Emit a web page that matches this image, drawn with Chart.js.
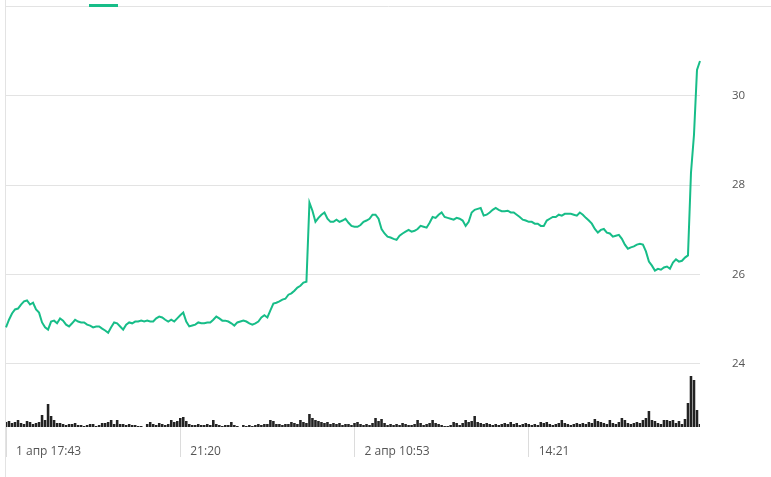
<!DOCTYPE html>
<html>
<head>
<meta charset="utf-8">
<script src="https://cdn.jsdelivr.net/npm/chart.js@4.4.1/dist/chart.umd.min.js"></script>
<style>
  html, body { margin: 0; padding: 0; background: #fff; }
  #wrap { width: 771px; height: 477px; position: relative; }
</style>
</head>
<body>
<div id="wrap"><canvas id="c"></canvas></div>
<script>
// ---- data ----
const prices = [
  24.82,24.99,25.13,25.22,25.24,25.33,25.40,25.42,25.33,25.37,
  25.22,25.15,24.93,24.82,24.77,24.95,24.97,24.91,25.02,24.97,
  24.88,24.84,24.91,24.99,24.95,24.93,24.93,24.88,24.86,24.82,
  24.84,24.84,24.79,24.75,24.70,24.82,24.93,24.91,24.84,24.77,
  24.88,24.93,24.91,24.95,24.95,24.97,24.95,24.97,24.95,24.95,
  25.02,25.06,25.04,24.99,24.95,24.99,24.95,25.02,25.09,25.15,
  24.95,24.84,24.86,24.88,24.93,24.91,24.91,24.93,24.93,24.99,
  25.06,25.02,24.97,24.97,24.95,24.91,24.86,24.93,24.95,24.97,
  24.95,24.91,24.88,24.91,24.95,25.04,25.09,25.04,25.20,25.35,
  25.37,25.40,25.44,25.46,25.55,25.58,25.64,25.71,25.75,25.82,
  25.84,27.61,27.43,27.18,27.27,27.34,27.39,27.25,27.18,27.18,
  27.23,27.18,27.21,27.25,27.16,27.09,27.07,27.07,27.11,27.18,
  27.21,27.25,27.34,27.34,27.25,27.02,26.92,26.85,26.83,26.80,
  26.78,26.87,26.92,26.96,27.00,26.96,26.98,27.02,27.09,27.07,
  27.05,27.16,27.29,27.27,27.34,27.39,27.29,27.27,27.25,27.23,
  27.27,27.25,27.21,27.09,27.18,27.39,27.45,27.47,27.49,27.32,
  27.34,27.39,27.45,27.49,27.45,27.42,27.42,27.43,27.39,27.39,
  27.34,27.29,27.23,27.21,27.18,27.18,27.14,27.14,27.09,27.09,
  27.21,27.25,27.29,27.29,27.34,27.32,27.36,27.36,27.36,27.34,
  27.32,27.39,27.34,27.27,27.21,27.14,27.02,26.94,27.00,27.02,
  26.94,26.92,26.85,26.87,26.89,26.80,26.67,26.58,26.61,26.63,
  26.67,26.69,26.67,26.52,26.29,26.20,26.09,26.13,26.11,26.16,
  26.18,26.13,26.27,26.34,26.29,26.31,26.38,26.43,28.28,29.13,
  30.58,30.78
];
const volumes = [
  5,6,4,5,7,4,3,6,5,3,
  4,5,12,7,23,11,7,4,4,3,
  2,3,3,4,2,2,1,2,3,3,
  1,2,4,4,5,7,3,7,3,3,
  2,3,2,2,1,1,0,3,5,3,
  2,4,3,2,3,7,5,6,9,10,
  6,3,2,2,3,2,2,3,2,7,
  3,2,1,2,2,5,2,1,0,2,
  1,2,1,2,3,2,3,3,7,6,
  3,3,2,3,3,5,4,3,7,5,
  4,13,9,7,6,5,4,5,3,4,
  3,4,2,3,3,2,4,5,3,2,
  3,2,4,9,6,8,4,2,3,2,
  3,2,4,3,2,2,3,7,4,2,
  3,4,7,4,3,2,1,1,2,5,
  4,2,4,7,5,6,11,5,4,3,
  4,3,2,3,2,3,4,3,5,3,
  4,2,3,4,3,2,3,2,5,4,
  5,3,2,3,4,7,4,3,2,3,
  4,3,4,3,5,4,8,6,5,4,
  3,7,4,3,5,9,7,4,3,4,
  5,4,7,9,16,7,6,4,3,7,
  7,6,7,4,6,3,8,24,51,47,
  17,3
];
const timeTickIndex = [0, 58, 116, 174];
const timeTickLabels = ['1 апр 17:43', '21:20', '2 апр 10:53', '14:21'];
const priceTicks = [24, 26, 28, 30];

// ---- chart ----
const idx = prices.map((_, i) => i);
const GREEN = '#17bd88';
const GRID = '#e3e3e3';
const TEXT = '#555';
const FAMILY = '"Open Sans", "Liberation Sans", Arial, sans-serif';

const decor = {
  id: 'decor',
  beforeDraw(chart) {
    const { ctx, chartArea } = chart;
    ctx.save();
    ctx.strokeStyle = GRID;
    ctx.lineWidth = 1;
    ctx.beginPath();
    ctx.moveTo(chartArea.left, Math.round(chartArea.top) + 0.5);
    ctx.lineTo(chart.width, Math.round(chartArea.top) + 0.5);
    ctx.stroke();
    ctx.beginPath();
    ctx.moveTo(Math.round(chartArea.left) - 0.5, 0);
    ctx.lineTo(Math.round(chartArea.left) - 0.5, chart.height);
    ctx.stroke();
    ctx.restore();
  },
  afterDraw(chart) {
    const { ctx, chartArea } = chart;
    ctx.save();
    ctx.fillStyle = GREEN;
    ctx.fillRect(chartArea.left + 83, chartArea.top - 2, 29, 3);
    ctx.restore();
  }
};

new Chart(document.getElementById('c'), {
  data: {
    labels: idx,
    datasets: [
      {
        type: 'line',
        data: prices,
        yAxisID: 'y',
        borderColor: GREEN,
        borderWidth: 2,
        pointRadius: 0,
        tension: 0,
        order: 1
      },
      {
        type: 'bar',
        data: volumes,
        yAxisID: 'v',
        backgroundColor: '#222',
        barPercentage: 0.85,
        categoryPercentage: 1,
        order: 2
      }
    ]
  },
  options: {
    responsive: true,
    maintainAspectRatio: false,
    animation: false,
    devicePixelRatio: 1,
    layout: { padding: { left: 6, top: 6, right: 0, bottom: 0 } },
    plugins: { legend: { display: false }, tooltip: { enabled: false } },
    scales: {
      x: {
        type: 'category',
        offset: false,
        border: { display: false },
        grid: { drawOnChartArea: false, drawTicks: true, tickLength: 30, color: '#dcdcdc', offset: false },
        ticks: {
          autoSkip: false,
          maxRotation: 0,
          minRotation: 0,
          align: 'start',
          labelOffset: 10,
          padding: -13,
          color: TEXT,
          font: { family: FAMILY, size: 12 },
          callback: (v, i) => {
            const k = timeTickIndex.indexOf(i);
            return k >= 0 ? timeTickLabels[k] : null;
          }
        },
        afterFit: s => { s.height = 50; s.paddingLeft = 0; s.paddingRight = 0; }
      },
      y: {
        position: 'right',
        min: 22.59,
        max: 32.01,
        border: { display: false },
        grid: { color: GRID, drawTicks: false },
        ticks: { padding: 32, color: TEXT, font: { family: FAMILY, size: 11.5 } },
        afterBuildTicks: s => { s.ticks = priceTicks.map(v => ({ value: v })); },
        afterFit: s => { s.width = 71; s.paddingTop = 0; s.paddingBottom = 0; }
      },
      v: {
        display: false,
        min: 0,
        max: 421
      }
    }
  },
  plugins: [decor]
});
</script>
</body>
</html>
